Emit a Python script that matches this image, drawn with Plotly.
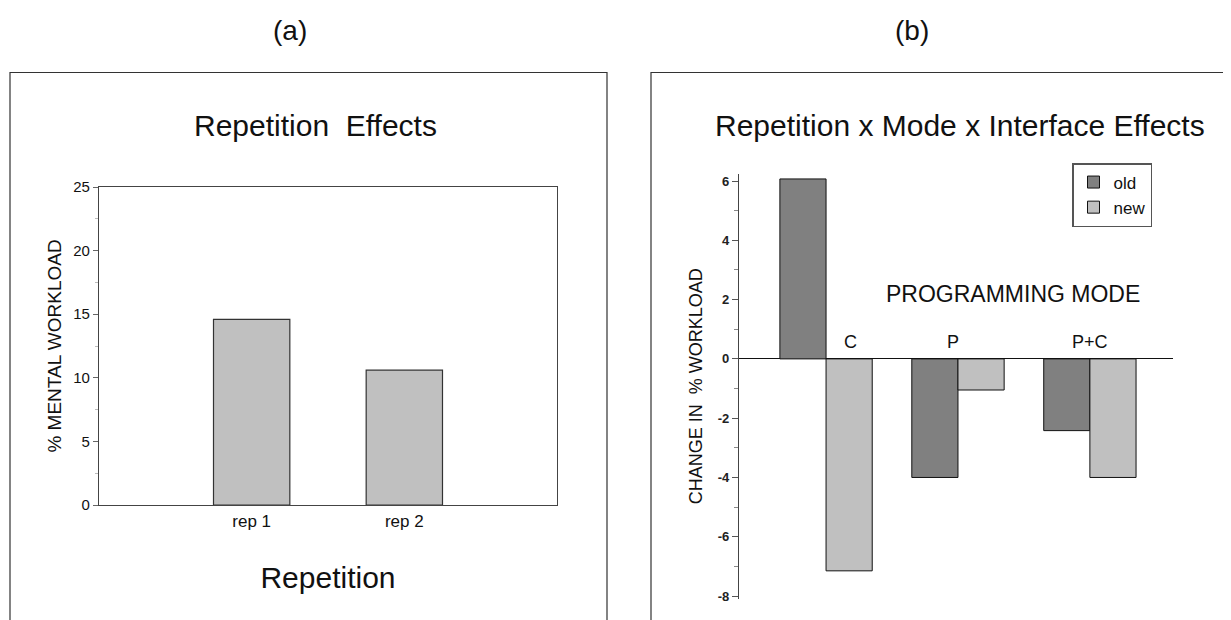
import plotly.graph_objects as go

# ---- data ----
rep_categories = ["rep 1", "rep 2"]
rep_values = [14.6, 10.6]

mode_categories = ["C", "P", "P+C"]
old_values = [6.07, -4.0, -2.42]
new_values = [-7.15, -1.05, -4.0]
series_names = ["old", "new"]

W, H = 1231, 620
OFF = 8  # page body margin
FONT = "Arial, Liberation Sans, Helvetica, sans-serif"

def px(x):
    return (x - OFF) / W

def py(y):
    return 1 - (y - OFF) / H

fig = go.Figure()

fig.add_trace(go.Bar(
    x=rep_categories, y=rep_values, xaxis="x", yaxis="y",
    marker=dict(color="#c0c0c0", line=dict(color="#333333", width=1.2)),
    width=0.5, showlegend=False,
))

fig.add_trace(go.Bar(
    x=mode_categories, y=old_values, xaxis="x2", yaxis="y2", name=series_names[0],
    marker=dict(color="#808080", line=dict(color="#111111", width=1)),
    offsetgroup="old",
))
fig.add_trace(go.Bar(
    x=mode_categories, y=new_values, xaxis="x2", yaxis="y2", name=series_names[1],
    marker=dict(color="#c0c0c0", line=dict(color="#111111", width=1)),
    offsetgroup="new",
))

fig.update_layout(
    width=W, height=H,
    margin=dict(l=0, r=0, t=0, b=0, autoexpand=False),
    paper_bgcolor="white", plot_bgcolor="white",
    font=dict(family=FONT, color="#111111"),
    barmode="group", bargap=0.3, bargroupgap=0,
    xaxis=dict(
        domain=[px(99), px(557)], anchor="y", automargin=False,
        range=[-1, 2], showgrid=False, zeroline=False,
        showline=True, mirror=True, linecolor="#444444", linewidth=1.2,
        ticks="", tickfont=dict(size=17, family=FONT, color="#111111"),
        title=dict(text="Repetition", font=dict(size=30, family=FONT), standoff=37),
    ),
    yaxis=dict(
        domain=[py(505), py(187)], anchor="x", automargin=False,
        range=[0, 25], tickvals=[0, 5, 10, 15, 20, 25],
        showgrid=False, zeroline=False,
        showline=True, mirror=True, linecolor="#444444", linewidth=1.2,
        ticks="outside", ticklen=5, tickcolor="#666666",
        minor=dict(dtick=2.5, ticks="outside", ticklen=3, tickcolor="#bbbbbb"),
        tickfont=dict(size=15, family=FONT, color="#111111"),
        title=dict(text="% MENTAL WORKLOAD", font=dict(size=19, family=FONT), standoff=6),
    ),
    xaxis2=dict(
        domain=[px(739), px(1173)], anchor="y2", automargin=False,
        range=[-0.66, 2.63], showgrid=False, zeroline=False,
        showline=False, ticks="", showticklabels=False,
    ),
    yaxis2=dict(
        domain=[py(599), py(173.6)], anchor="x2", automargin=False,
        range=[-8.1, 6.25], tickvals=[-8, -6, -4, -2, 0, 2, 4, 6],
        ticktext=["-8", "-6", "-4", "-2", "0", "2", "4", "6"],
        showgrid=False, zeroline=True, zerolinecolor="#111111", zerolinewidth=1.2,
        showline=True, linecolor="#444444", linewidth=1.2,
        ticks="outside", ticklen=6, tickcolor="#555555",
        minor=dict(dtick=1, ticks="outside", ticklen=4, tickcolor="#888888"),
        tickfont=dict(size=13, family=FONT, color="#222222", weight="bold"),
        title=dict(text="CHANGE IN  % WORKLOAD", font=dict(size=18, family=FONT), standoff=10),
    ),
    legend=dict(
        x=px(1072), y=py(163), xanchor="left", yanchor="top",
        bordercolor="#555555", borderwidth=1.5, bgcolor="white",
        font=dict(size=17, family=FONT), tracegroupgap=0,
        itemwidth=30,
    ),
    shapes=[
        dict(type="rect", xref="paper", yref="paper",
             x0=px(10), x1=px(607), y0=-0.02, y1=py(72.5),
             line=dict(color="#333333", width=1.2)),
        dict(type="rect", xref="paper", yref="paper",
             x0=px(651), x1=1.02, y0=-0.02, y1=py(72.5),
             line=dict(color="#333333", width=1.2)),
    ],
)

def note(text, x, y, size):
    return dict(text=text, x=px(x), y=py(y), xref="paper", yref="paper",
                xanchor="center", yanchor="middle", showarrow=False,
                font=dict(size=size, family=FONT))

annotations = [
    note("(a)", 290, 30, 28),
    note("(b)", 912, 30, 28),
    note("Repetition  Effects", 315, 126, 30),
    note("Repetition x Mode x Interface Effects", 960, 126, 30),
    note("PROGRAMMING MODE", 1013, 294, 23),
]
label_shift = {"C": 24, "P": -5, "P+C": 0}
for cat in mode_categories:
    annotations.append(dict(
        text=cat, x=cat, y=0, xref="x2", yref="y2", showarrow=False,
        xanchor="center", yanchor="bottom", yshift=5, xshift=label_shift[cat],
        font=dict(size=18, family=FONT),
    ))
fig.update_layout(annotations=annotations)

fig.write_html("out.html")
